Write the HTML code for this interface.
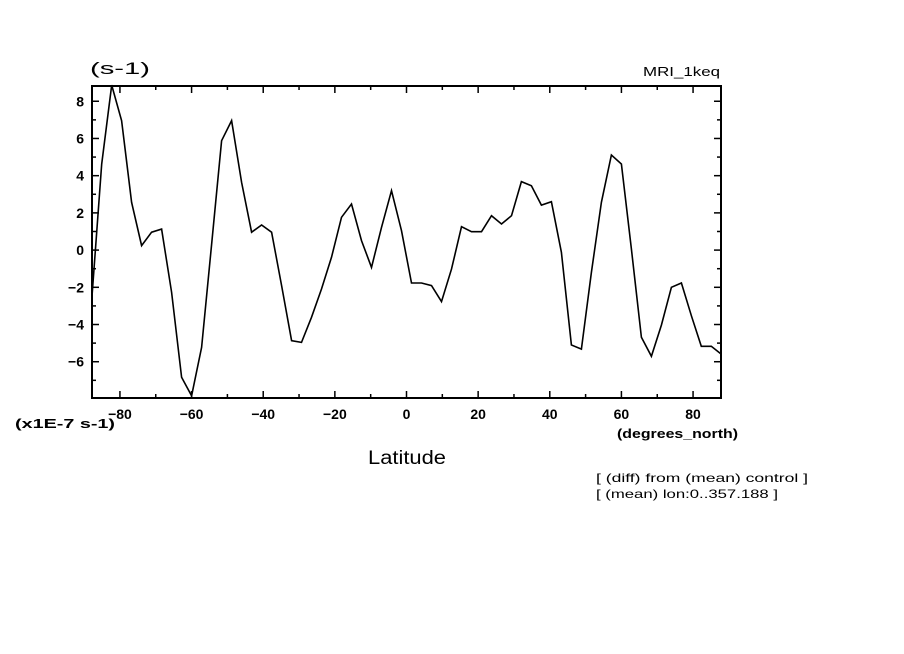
<!DOCTYPE html>
<html><head><meta charset="utf-8"><style>
body{margin:0;background:#fff;}
svg{display:block;font-family:"Liberation Sans",sans-serif;}
</style></head><body>
<svg id="chart" width="904" height="654" viewBox="0 0 904 654" xmlns="http://www.w3.org/2000/svg">
<rect width="904" height="654" fill="#fff"/>
<g id="ticks"></g>
<g id="xlabels" font-size="14" font-weight="bold" text-anchor="middle"></g>
<g id="ylabels" font-size="14" font-weight="bold" text-anchor="end"></g>
<path id="series" fill="none" stroke="#000" stroke-width="1.6" stroke-linejoin="miter"/>
<rect x="92" y="86" width="629" height="312" fill="none" stroke="#000" stroke-width="2"/>
<text x="90" y="74" font-size="17" textLength="60" lengthAdjust="spacingAndGlyphs">(s-1)</text>
<text x="643" y="76" font-size="13" textLength="77" lengthAdjust="spacingAndGlyphs">MRI_1keq</text>
<text x="15" y="428" font-size="13" font-weight="bold" textLength="100" lengthAdjust="spacingAndGlyphs">(x1E-7 s-1)</text>
<text x="617" y="438" font-size="13" font-weight="bold" textLength="121" lengthAdjust="spacingAndGlyphs">(degrees_north)</text>
<text x="368" y="464" font-size="19" textLength="78" lengthAdjust="spacingAndGlyphs">Latitude</text>
<text x="596" y="482" font-size="12" textLength="212" lengthAdjust="spacingAndGlyphs">[ (diff) from (mean) control ]</text>
<text x="596" y="498" font-size="12" textLength="182" lengthAdjust="spacingAndGlyphs">[ (mean) lon:0..357.188 ]</text>
</svg>
<script>
const lats=[-87.86,-85.10,-82.31,-79.53,-76.74,-73.95,-71.16,-68.37,-65.58,-62.79,-60.00,-57.21,-54.42,-51.63,-48.84,-46.04,-43.25,-40.46,-37.67,-34.88,-32.09,-29.30,-26.51,-23.72,-20.93,-18.14,-15.35,-12.56,-9.77,-6.98,-4.19,-1.40,
1.40,4.19,6.98,9.77,12.56,15.35,18.14,20.93,23.72,26.51,29.30,32.09,34.88,37.67,40.46,43.25,46.04,48.84,51.63,54.42,57.21,60.00,62.79,65.58,68.37,71.16,73.95,76.74,79.53,82.31,85.10,87.86];
const values=[-2.63,4.63,8.87,6.96,2.57,0.24,0.96,1.13,-2.27,-6.84,-7.83,-5.23,0.3,5.88,6.96,3.64,0.96,1.35,0.96,-1.91,-4.87,-4.96,-3.61,-2.09,-0.39,1.76,2.48,0.51,-0.93,1.22,3.19,1.04,
-1.77,-1.77,-1.91,-2.77,-1.02,1.26,0.99,0.99,1.85,1.40,1.85,3.68,3.46,2.42,2.60,-0.12,-5.10,-5.32,-1.2,2.57,5.11,4.63,0.06,-4.69,-5.71,-4.03,-2.0,-1.77,-3.53,-5.17,-5.17,-5.59];
const xTicks=[-80,-60,-40,-20,0,20,40,60,80];
const yTicks=[-6,-4,-2,0,2,4,6,8];
const NS="http://www.w3.org/2000/svg";
const X0=92,X1=721,Y0=86,Y1=398;
const xmin=-87.8,xmax=87.8,ymin=-7.95,ymax=8.82;
function sx(v){return X0+(v-xmin)/(xmax-xmin)*(X1-X0);}
function sy(v){return Y1-(v-ymin)/(ymax-ymin)*(Y1-Y0);}
let d="";
for(let i=0;i<lats.length;i++){d+=(i?"L":"M")+sx(lats[i]).toFixed(1)+" "+sy(values[i]).toFixed(1);}
document.getElementById("series").setAttribute("d",d);
const tg=document.getElementById("ticks");
function ln(x1,y1,x2,y2){const l=document.createElementNS(NS,"line");l.setAttribute("x1",x1);l.setAttribute("y1",y1);l.setAttribute("x2",x2);l.setAttribute("y2",y2);l.setAttribute("stroke","#000");l.setAttribute("stroke-width","1.5");


tg.appendChild(l);}
for(let v=-80;v<=80;v+=10){const x=sx(v),L=(v%20===0)?7:4;ln(x,Y1,x,Y1-L);ln(x,Y0,x,Y0+L);}
for(let v=-7;v<=8;v+=1){const y=sy(v),L=(v%2===0)?7:4;ln(X0,y,X0+L,y);ln(X1,y,X1-L,y);}
const xl=document.getElementById("xlabels");
xTicks.forEach(v=>{const t=document.createElementNS(NS,"text");t.setAttribute("x",sx(v));t.setAttribute("y",419);t.textContent=v<0?"\u2212"+(-v):String(v);


xl.appendChild(t);});
const yl=document.getElementById("ylabels");
yTicks.forEach(v=>{const t=document.createElementNS(NS,"text");t.setAttribute("x",84);t.setAttribute("y",sy(v)+5);t.textContent=v<0?"\u2212"+(-v):String(v);


yl.appendChild(t);});
</script>
</body></html>
